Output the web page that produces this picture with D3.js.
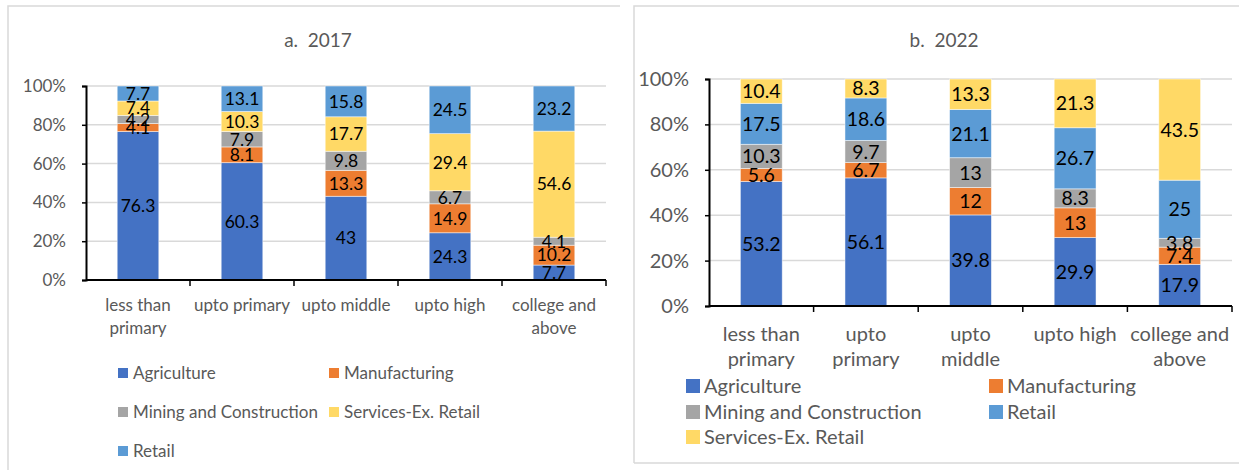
<!DOCTYPE html>
<html><head><meta charset="utf-8">
<script src="https://cdn.jsdelivr.net/npm/d3@7"></script>
<style>body{margin:0;background:#fff}svg{display:block}</style>
</head><body>
<svg id="c" width="1239" height="470"></svg>
<script>
const categories17 = ["less than|primary","upto primary","upto middle","upto high","college and|above"];
const categories22 = ["less than|primary","upto|primary","upto|middle","upto high","college and|above"];
const agriculture17 = [76.3,60.3,43,24.3,7.7];
const manufacturing17 = [4.1,8.1,13.3,14.9,10.2];
const mining17 = [4.2,7.9,9.8,6.7,4.1];
const services17 = [7.4,10.3,17.7,29.4,54.6];
const retail17 = [7.7,13.1,15.8,24.5,23.2];
const agriculture22 = [53.2,56.1,39.8,29.9,17.9];
const manufacturing22 = [5.6,6.7,12,13,7.4];
const mining22 = [10.3,9.7,13,8.3,3.8];
const retail22 = [17.5,18.6,21.1,26.7,25];
const services22 = [10.4,8.3,13.3,21.3,43.5];
const yTicks = [0,0.2,0.4,0.6,0.8,1];
const colors = {"Agriculture":"#4472C4","Manufacturing":"#ED7D31","Mining and Construction":"#A5A5A5","Services-Ex. Retail":"#FFD966","Retail":"#5B9BD5"};

const svg = d3.select("#c");
const FONT = "Lato, 'Open Sans', sans-serif";

function panel(o){
  const g = svg.append("g");
  g.append("path").attr("d",o.border).attr("fill","none").attr("stroke","#d9d9d9").attr("stroke-width",1.5);
  g.append("text").attr("x",o.titleX).attr("y",o.titleY).attr("text-anchor","middle")
    .attr("font-family",FONT).attr("font-size",o.titleSize).attr("fill","#595959")
    .style("white-space","pre").text(o.title);
  const n = o.cats.length;
  const rows = o.cats.map((c,i)=>{const r={cat:c}; o.series.forEach(s=>r[s.name]=s.values[i]); return r;});
  const keys = o.series.map(s=>s.name);
  const stacked = d3.stack().keys(keys).offset(d3.stackOffsetExpand)(rows);
  const x = d3.scaleBand().domain(o.cats).range([o.x0,o.x1]).paddingInner(o.pad).paddingOuter(o.pad/2);
  const y = d3.scaleLinear().domain([0,1]).range([o.y0,o.y1]);
  g.append("g").selectAll("line").data(yTicks.slice(1)).join("line")
    .attr("x1",o.x0).attr("x2",o.x1).attr("y1",d=>y(d)).attr("y2",d=>y(d))
    .attr("stroke","#d9d9d9").attr("stroke-width",1.5);
  stacked.forEach(layer=>{
    g.append("g").selectAll("rect").data(layer).join("rect")
      .attr("x",d=>x(d.data.cat)).attr("width",x.bandwidth())
      .attr("y",d=>y(d[1])).attr("height",d=>y(d[0])-y(d[1]))
      .attr("fill",colors[layer.key]).attr("stroke","#fff").attr("stroke-opacity",0.6).attr("stroke-width",0.8);
  });
  stacked.forEach(layer=>{
    g.append("g").selectAll("text").data(layer).join("text")
      .attr("x",d=>x(d.data.cat)+x.bandwidth()/2).attr("y",d=>(y(d[0])+y(d[1]))/2)
      .attr("dy","0.36em").attr("text-anchor","middle")
      .attr("font-family",FONT).attr("font-size",o.lblSize).attr("fill","#000")
      .text(d=>d.data[layer.key]);
  });
  const ya = g.append("g").attr("transform",`translate(${o.x0},0)`)
    .call(d3.axisLeft(y).tickValues(yTicks).tickFormat(d3.format(".0%")).tickSize(4).tickSizeOuter(4).tickPadding(o.yPad));
  ya.select(".domain").attr("stroke","#000").attr("stroke-width",2);
  ya.selectAll(".tick line").attr("stroke","#000").attr("stroke-width",1.5);
  ya.selectAll("text").attr("font-family",FONT).attr("font-size",o.axSize).attr("fill","#595959");
  const xb = d3.scaleLinear().domain([0,n]).range([o.x0,o.x1]);
  g.append("line").attr("x1",o.x0).attr("x2",o.x1).attr("y1",o.y0).attr("y2",o.y0).attr("stroke","#000").attr("stroke-width",2);
  g.append("g").selectAll("line").data(d3.range(1,n+1)).join("line")
    .attr("x1",d=>xb(d)).attr("x2",d=>xb(d)).attr("y1",o.y0).attr("y2",o.y0+6).attr("stroke","#000").attr("stroke-width",1.5);
  const xl = g.append("g").selectAll("text").data(o.cats).join("text")
    .attr("x",d=>x(d)+x.bandwidth()/2).attr("y",o.xLblY).attr("text-anchor","middle")
    .attr("font-family",FONT).attr("font-size",o.axSize).attr("fill","#595959");
  xl.each(function(d){
    const t=d3.select(this);
    d.split("|").forEach((p,i)=>t.append("tspan").attr("x",x(d)+x.bandwidth()/2).attr("dy",i?o.xLblGap:0).text(p));
  });
  o.legend.forEach((name,i)=>{
    const col=i%2,row=Math.floor(i/2);
    const lx=o.legX[col], ly=o.legY[row];
    g.append("rect").attr("x",lx).attr("y",ly-o.sw/2).attr("width",o.sw).attr("height",o.sw).attr("fill",colors[name]);
    g.append("text").attr("x",lx+o.sw+o.sGap).attr("y",ly).attr("dy","0.35em")
      .attr("font-family",FONT).attr("font-size",o.legSize).attr("fill","#595959").text(name);
  });
}

panel({
  border:"M8,472V6H620", title:"a.  2017", titleX:318, titleY:47, titleSize:19,
  cats:categories17,
  series:[{name:"Agriculture",values:agriculture17},{name:"Manufacturing",values:manufacturing17},
          {name:"Mining and Construction",values:mining17},{name:"Services-Ex. Retail",values:services17},
          {name:"Retail",values:retail17}],
  x0:86,x1:606,y0:280,y1:86,pad:0.6,lblSize:17.5,axSize:17,yPad:16,
  xLblY:311,xLblGap:23,
  legend:["Agriculture","Manufacturing","Mining and Construction","Services-Ex. Retail","Retail"],
  legX:[118,329],legY:[373,412,451],sw:10,sGap:5,legSize:17
});
panel({
  border:"M634,463V6H1245M634,463H1245", title:"b.  2022", titleX:944, titleY:47, titleSize:19,
  cats:categories22,
  series:[{name:"Agriculture",values:agriculture22},{name:"Manufacturing",values:manufacturing22},
          {name:"Mining and Construction",values:mining22},{name:"Retail",values:retail22},
          {name:"Services-Ex. Retail",values:services22}],
  x0:709,x1:1232,y0:306,y1:79,pad:0.6,lblSize:19.5,axSize:20,yPad:16,
  xLblY:341,xLblGap:25,
  legend:["Agriculture","Manufacturing","Mining and Construction","Retail","Services-Ex. Retail"],
  legX:[686,989],legY:[386,412,437],sw:14,sGap:4,legSize:20
});
</script>
</body></html>
